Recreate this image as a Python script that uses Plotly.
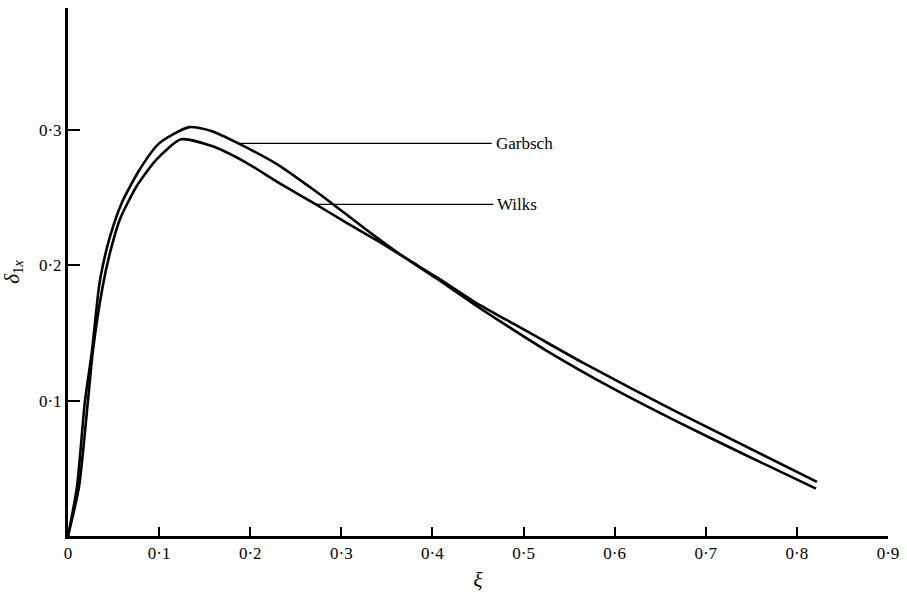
import plotly.graph_objects as go

# Displacement thickness delta_1x against xi for the two solutions
garbsch_xi = [0.0, 0.0098, 0.0185, 0.026, 0.034, 0.038, 0.046, 0.059, 0.078, 0.100,
              0.133, 0.158, 0.187, 0.231, 0.267, 0.289, 0.326, 0.369, 0.405, 0.446,
              0.471, 0.525, 0.598, 0.667, 0.743, 0.821]
garbsch_delta = [0.0, 0.036, 0.099, 0.135, 0.184, 0.199, 0.221, 0.246, 0.270, 0.290,
                 0.302, 0.299, 0.290, 0.274, 0.257, 0.246, 0.227, 0.206, 0.190, 0.171,
                 0.160, 0.137, 0.109, 0.085, 0.060, 0.035]

wilks_xi = [0.0, 0.012, 0.0218, 0.027, 0.038, 0.046, 0.057, 0.075, 0.097, 0.124,
            0.158, 0.195, 0.231, 0.267, 0.304, 0.340, 0.376, 0.405, 0.446, 0.507,
            0.565, 0.667, 0.822]
wilks_delta = [0.0, 0.036, 0.099, 0.135, 0.184, 0.209, 0.234, 0.258, 0.278, 0.293,
               0.288, 0.276, 0.261, 0.247, 0.232, 0.218, 0.203, 0.191, 0.173, 0.150,
               0.128, 0.092, 0.040]

x_ticks = [0.0, 0.1, 0.2, 0.3, 0.4, 0.5, 0.6, 0.7, 0.8, 0.9]
x_tick_text = ["0", "0·1", "0·2", "0·3", "0·4", "0·5", "0·6", "0·7", "0·8", "0·9"]
y_ticks = [0.1, 0.2, 0.3]
y_tick_text = ["0·1", "0·2", "0·3"]

# Curve labels: (name, xi where leader leaves curve, delta, xi where text starts)
labels = [("Garbsch", 0.187, 0.290, 0.465),
          ("Wilks", 0.272, 0.245, 0.467)]

SERIF = "Liberation Serif"

fig = go.Figure()
for xs, ys, name in [(garbsch_xi, garbsch_delta, "Garbsch"), (wilks_xi, wilks_delta, "Wilks")]:
    fig.add_trace(go.Scatter(x=xs, y=ys, mode="lines", name=name,
                             line=dict(color="black", width=2.6, shape="spline", smoothing=0.6)))

for name, x0, y0, x1 in labels:
    fig.add_shape(type="line", xref="x", yref="y", x0=x0, y0=y0, x1=x1, y1=y0,
                  line=dict(color="black", width=1.3))
    fig.add_annotation(x=x1, y=y0, xref="x", yref="y", text=name, showarrow=False,
                       xanchor="left", yanchor="middle", xshift=2,
                       font=dict(family=SERIF, size=17, color="black"))

fig.update_layout(
    width=907, height=598,
    margin=dict(l=68, r=13, t=8, b=62),
    plot_bgcolor="white", paper_bgcolor="white",
    showlegend=False,
    font=dict(family=SERIF, size=17, color="black"),
    xaxis=dict(range=[0, 0.9], tickvals=x_ticks, ticktext=x_tick_text,
               ticks="inside", ticklen=9, tickwidth=2.2, tickcolor="black",
               showline=True, linewidth=3, linecolor="black",
               showgrid=False, zeroline=False,
               tickfont=dict(family=SERIF, size=17),
               title=dict(text="<i>ξ</i>", font=dict(family=SERIF, size=21), standoff=10)),
    yaxis=dict(range=[0, 0.390], tickvals=y_ticks, ticktext=y_tick_text,
               ticks="inside", ticklen=12, tickwidth=2.2, tickcolor="black",
               showline=True, linewidth=3, linecolor="black",
               showgrid=False, zeroline=False,
               tickfont=dict(family=SERIF, size=17),
               title=dict(text="<i>δ</i><sub>1<i>x</i></sub>", font=dict(family=SERIF, size=21),
                          standoff=14)),
)

fig.write_html("out.html")
